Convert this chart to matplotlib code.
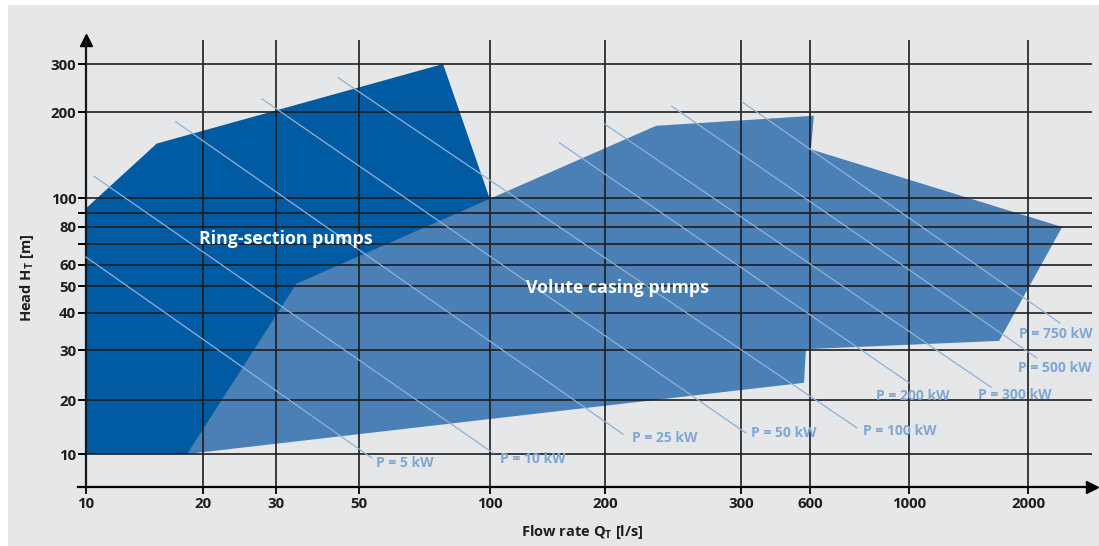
import numpy as np
import matplotlib.pyplot as plt
from matplotlib.ticker import FixedLocator, FixedFormatter, NullLocator
from matplotlib.patches import Rectangle

plt.rcParams['font.family'] = ['Open Sans', 'DejaVu Sans']
plt.rcParams['mathtext.fontset'] = 'custom'
plt.rcParams['mathtext.bf'] = 'Open Sans:bold'

# flow rate Q [l/s] and head H [m]
x_ticks = [10, 20, 30, 50, 100, 200, 300, 600, 1000, 2000]
y_ticks = [10, 20, 30, 40, 50, 60, 70, 80, 90, 100, 200, 300]
y_tick_labels = ['10', '20', '30', '40', '50', '60', '', '80', '', '100', '200', '300']

ring_q = [10, 15.2, 78, 100, 62, 18.2, 10]
ring_h = [93, 155, 300, 99, 35, 10, 10]

volute_q = [18.2, 34, 233, 612, 603, 2440, 1690, 576, 565]
volute_h = [10, 51, 179, 194, 148, 80, 32.2, 30.2, 23]

power_labels = ['P = 5 kW', 'P = 10 kW', 'P = 25 kW', 'P = 50 kW', 'P = 100 kW',
                'P = 200 kW', 'P = 300 kW', 'P = 500 kW', 'P = 750 kW']
power_q_start = [10, 10.5, 17, 27.8, 44, 152, 199, 244, 303]
power_h_start = [63.6, 119, 185, 223, 267, 156, 182, 210, 218]
power_q_end = [53.5, 102, 211, 315, 764, 1000, 1612, 2108, 2410]
power_h_end = [9.5, 10.1, 12.9, 13.1, 14, 23, 22.2, 28.1, 37]

# label offsets from line end (pixels)
label_offsets = [(4, -5), (7, -6), (9, -4), (5, 0), (6, -3),
                 (-33, -13), (-13, -8), (-19, -10), (-41, -11)]

# the printed grid is not evenly logarithmic, so warp the axes to it
x_grid_px = [86, 203, 276, 359, 490, 605, 741, 810, 909, 1028]
y_grid_px = [92, 146, 196, 233, 260, 281, 302, 319, 333, 348, 434, 482]


def make_warp(vals, px):
    lv = np.log10(vals)
    px = np.asarray(px, float)
    s0 = (px[1] - px[0]) / (lv[1] - lv[0])
    s1 = (px[-1] - px[-2]) / (lv[-1] - lv[-2])

    def fwd(v):
        v = np.log10(np.clip(np.asarray(v, float), 1e-6, None))
        out = np.interp(v, lv, px)
        out = np.where(v < lv[0], px[0] + (v - lv[0]) * s0, out)
        out = np.where(v > lv[-1], px[-1] + (v - lv[-1]) * s1, out)
        return out

    def inv(p):
        p = np.asarray(p, float)
        out = np.interp(p, px, lv)
        out = np.where(p < px[0], lv[0] + (p - px[0]) / s0, out)
        out = np.where(p > px[-1], lv[-1] + (p - px[-1]) / s1, out)
        return 10 ** out

    return fwd, inv


W, H = 1099, 546
fig = plt.figure(figsize=(W / 100, H / 100), dpi=100, facecolor='white')
fig.patches.append(Rectangle((8 / W, 0), 1, (H - 5) / H, transform=fig.transFigure,
                             facecolor='#e6e7e9', edgecolor='none', zorder=-10))

left, right, bottom, top = 78, 1092, 59, 506
ax = fig.add_axes([left / W, bottom / H, (right - left) / W, (top - bottom) / H])
ax.patch.set_visible(False)

xf, xi = make_warp(x_ticks, x_grid_px)
yf, yi = make_warp(y_ticks, y_grid_px)
ax.set_xscale('function', functions=(xf, xi))
ax.set_yscale('function', functions=(yf, yi))
ax.set_xlim(float(xi(left)), float(xi(right)))
ax.set_ylim(float(yi(bottom)), float(yi(top)))

ax.fill(ring_q, ring_h, color='#005ba2', lw=0, zorder=1)
ax.fill(volute_q, volute_h, color='#4b80b7', lw=0, zorder=1.5)

for i in range(len(power_labels)):
    ax.plot([power_q_start[i], power_q_end[i]], [power_h_start[i], power_h_end[i]],
            color='#8db2d9', lw=0.9, zorder=3)
    ax.annotate(power_labels[i], (power_q_end[i], power_h_end[i]),
                xytext=label_offsets[i], textcoords='offset pixels',
                ha='left', va='center', fontsize=10, fontweight='bold',
                color='#80a7d2', zorder=4)

ax.text(19.5, 72.8, 'Ring-section pumps', color='white', fontsize=12.8,
        fontweight='bold', ha='left', va='center', zorder=4)
ax.text(124, 49.2, 'Volute casing pumps', color='white', fontsize=12.8,
        fontweight='bold', ha='left', va='center', zorder=4)

ax.xaxis.set_major_locator(FixedLocator(x_ticks))
ax.xaxis.set_major_formatter(FixedFormatter([str(t) for t in x_ticks]))
ax.xaxis.set_minor_locator(NullLocator())
ax.yaxis.set_major_locator(FixedLocator(y_ticks))
ax.yaxis.set_major_formatter(FixedFormatter(y_tick_labels))
ax.yaxis.set_minor_locator(NullLocator())

ax.set_axisbelow(False)
ax.grid(True, color='#1e1e1e', lw=1.2)

for s in ['top', 'right']:
    ax.spines[s].set_visible(False)
ax.spines['left'].set_position(('data', 10))
ax.spines['left'].set_linewidth(1.6)
ax.spines['bottom'].set_linewidth(1.6)
ax.tick_params(axis='y', direction='out', length=6, width=1.3, pad=1,
               labelsize=10.8, labelcolor='#1e1e1e')
ax.tick_params(axis='x', direction='out', length=5, width=1.3, pad=2,
               labelsize=10.8, labelcolor='#1e1e1e')
for lbl in ax.get_xticklabels() + ax.get_yticklabels():
    lbl.set_fontweight('bold')

ax.plot(1, 0, '>', color='black', ms=8, transform=ax.transAxes, clip_on=False)
ax.plot(10, 1, '^', color='black', ms=8, transform=ax.get_xaxis_transform(),
        clip_on=False)

fig.text(582 / W, 1 - 532 / H, r'Flow rate Q$_\mathbf{T}$ [l/s]', ha='center',
         va='center', fontsize=10.5, fontweight='bold', color='#1e1e1e')
fig.text(27 / W, 1 - 278 / H, r'Head H$_\mathbf{T}$ [m]', ha='center',
         va='center', rotation=90, fontsize=10.5, fontweight='bold', color='#1e1e1e')

fig.savefig('out.png', dpi=100, facecolor=fig.get_facecolor())
